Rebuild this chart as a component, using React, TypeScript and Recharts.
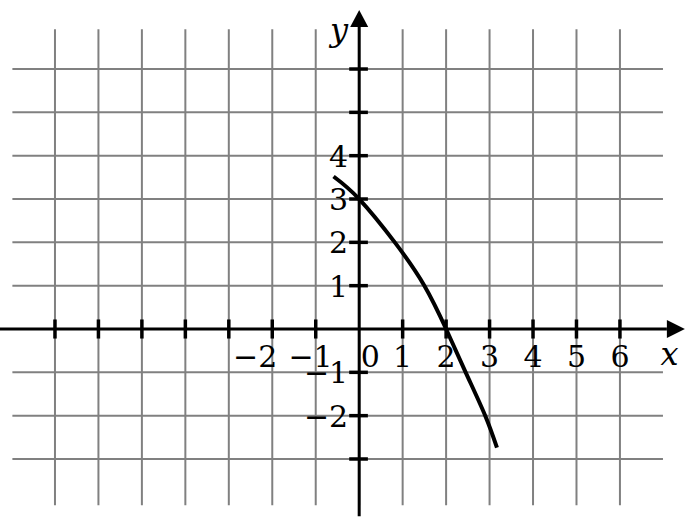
import { LineChart, Line, XAxis, YAxis, ReferenceLine, ReferenceDot } from "recharts";

// integer grid of the coordinate plane
const X_GRID = [-7, -6, -5, -4, -3, -2, -1, 0, 1, 2, 3, 4, 5, 6];
const Y_GRID = [-3, -2, -1, 0, 1, 2, 3, 4, 5, 6];
const X_TICKS = [-7, -6, -5, -4, -3, -2, -1, 1, 2, 3, 4, 5, 6];
const Y_TICKS = [-3, -2, -1, 1, 2, 3, 4, 5, 6];
const X_LABELS = [-2, -1, 0, 1, 2, 3, 4, 5, 6];
const Y_LABELS = [-2, -1, 1, 2, 3, 4];

// points
const CURVE_X = [-0.59, 0, 0.82, 1.5, 2, 2.45, 2.9, 3.17];
const CURVE_Y = [3.52, 3, 2, 1, 0, -1, -2, -2.74];

const curve = CURVE_X.map((x, i) => ({ x, y: CURVE_Y[i] }));

const X_DOMAIN: [number, number] = [-8.265, 7.589];
const Y_DOMAIN: [number, number] = [-4.431, 7.593];
const GRID_X_RANGE: [number, number] = [-7.98, 6.99];
const GRID_Y_RANGE: [number, number] = [-4.07, 6.92];
const X_AXIS_END = 7.08;
const Y_AXIS_END = 6.97;
const Y_AXIS_START = -4.32;

const FONT = "'DejaVu Serif', serif";
const GRID_COLOR = "#808080";

const fmt = (v: number) => (v < 0 ? `\u2212${-v}` : String(v));

// small nudges so the labels sit where the original figure has them
const xLabelShift = (v: number) => (v === 0 ? 11 : v === -1 ? 17 : v === -2 ? 5 : 0);

export default function App() {
  return (
    <div style={{ position: "absolute", left: 0, top: 0 }}>
      <LineChart width={689} height={521} data={curve} margin={{ top: 0, right: 0, bottom: 0, left: 0 }}>
        <XAxis dataKey="x" type="number" domain={X_DOMAIN} allowDataOverflow hide />
        <YAxis type="number" domain={Y_DOMAIN} allowDataOverflow hide />

        {X_GRID.map((v) => (
          <ReferenceLine
            key={`gx${v}`}
            segment={[{ x: v, y: GRID_Y_RANGE[0] }, { x: v, y: GRID_Y_RANGE[1] }]}
            stroke={GRID_COLOR}
            strokeWidth={2}
            ifOverflow="visible"
          />
        ))}
        {Y_GRID.map((v) => (
          <ReferenceLine
            key={`gy${v}`}
            segment={[{ x: GRID_X_RANGE[0], y: v }, { x: GRID_X_RANGE[1], y: v }]}
            stroke={GRID_COLOR}
            strokeWidth={2}
            ifOverflow="visible"
          />
        ))}

        <ReferenceLine
          segment={[{ x: X_DOMAIN[0], y: 0 }, { x: X_AXIS_END, y: 0 }]}
          stroke="#000"
          strokeWidth={3}
          ifOverflow="visible"
        />
        <ReferenceLine
          segment={[{ x: 0, y: Y_AXIS_START }, { x: 0, y: Y_AXIS_END }]}
          stroke="#000"
          strokeWidth={3}
          ifOverflow="visible"
        />
        {X_TICKS.map((v) => (
          <ReferenceLine
            key={`tx${v}`}
            segment={[{ x: v, y: -0.22 }, { x: v, y: 0.22 }]}
            stroke="#000"
            strokeWidth={3.5}
            ifOverflow="visible"
          />
        ))}
        {Y_TICKS.map((v) => (
          <ReferenceLine
            key={`ty${v}`}
            segment={[{ x: -0.23, y: v }, { x: 0.2, y: v }]}
            stroke="#000"
            strokeWidth={3.5}
            ifOverflow="visible"
          />
        ))}
        <ReferenceDot
          x={X_AXIS_END}
          y={0}
          r={1}
          ifOverflow="visible"
          shape={(p: any) => (
            <polygon points={`${p.cx + 18},${p.cy} ${p.cx},${p.cy - 9} ${p.cx},${p.cy + 9}`} fill="#000" />
          )}
        />
        <ReferenceDot
          x={0}
          y={Y_AXIS_END}
          r={1}
          ifOverflow="visible"
          shape={(p: any) => (
            <polygon points={`${p.cx},${p.cy - 17} ${p.cx - 9},${p.cy} ${p.cx + 9},${p.cy}`} fill="#000" />
          )}
        />

        <Line
          dataKey="y"
          type="natural"
          stroke="#000"
          strokeWidth={4}
          dot={false}
          activeDot={false}
          isAnimationActive={false}
        />

        {X_LABELS.map((v) => (
          <ReferenceDot
            key={`lx${v}`}
            x={v}
            y={0}
            r={1}
            ifOverflow="visible"
            shape={(p: any) => (
              <text
                x={p.cx + xLabelShift(v)}
                y={p.cy + 38}
                textAnchor={v < 0 ? "end" : "middle"}
                fontFamily={FONT}
                fontSize={30}
                fill="#000"
              >
                {fmt(v)}
              </text>
            )}
          />
        ))}
        {Y_LABELS.map((v) => (
          <ReferenceDot
            key={`ly${v}`}
            x={0}
            y={v}
            r={1}
            ifOverflow="visible"
            shape={(p: any) => (
              <text x={p.cx - 11} y={p.cy + 11} textAnchor="end" fontFamily={FONT} fontSize={30} fill="#000">
                {fmt(v)}
              </text>
            )}
          />
        ))}
        <ReferenceDot
          x={7}
          y={0}
          r={1}
          ifOverflow="visible"
          shape={(p: any) => (
            <text x={p.cx + 6} y={p.cy + 36} textAnchor="middle" fontFamily={FONT} fontStyle="italic" fontSize={32} fill="#000">
              x
            </text>
          )}
        />
        <ReferenceDot
          x={0}
          y={7}
          r={1}
          ifOverflow="visible"
          shape={(p: any) => (
            <text x={p.cx - 11} y={p.cy + 15} textAnchor="end" fontFamily={FONT} fontStyle="italic" fontSize={32} fill="#000">
              y
            </text>
          )}
        />
      </LineChart>
    </div>
  );
}
